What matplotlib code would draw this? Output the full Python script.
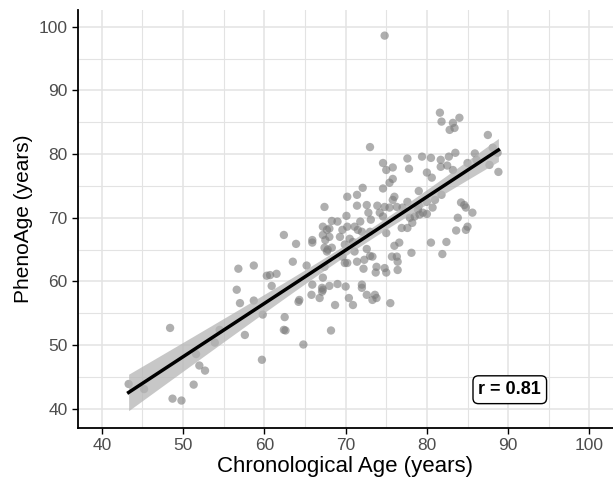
import numpy as np
import matplotlib
matplotlib.use("Agg")
import matplotlib.pyplot as plt

plt.rcParams['font.family'] = ['Liberation Sans', 'DejaVu Sans']

# chronological age (years)
chrono_age = [
    62.4, 56.8, 58.7, 60.3, 60.7, 61.5, 60.9, 56.6, 57.0, 58.7, 59.8, 62.5,
    62.4, 62.6, 48.4, 54.5, 57.6, 53.9, 51.6, 59.7, 52.0, 52.7, 43.3, 45.2,
    51.3, 48.7, 49.8,
    72.1, 70.2, 71.4, 67.4, 71.4, 72.6, 73.9, 72.8, 73.1, 70.1, 68.3, 69.0,
    67.2, 67.7, 68.0, 70.2, 71.1, 71.5, 72.0, 69.6, 71.8, 73.0, 68.0, 67.5,
    67.2, 69.3, 70.5, 70.9, 69.9, 63.9, 65.9, 65.9, 67.4, 67.8, 67.7, 68.3,
    71.1, 72.6, 73.0, 71.4, 69.6, 69.9, 70.2, 72.3, 73.3, 73.8, 63.5, 65.2,
    67.4, 72.2, 73.7, 67.2, 65.9, 67.1, 67.2, 67.1, 68.0, 69.0, 70.0, 72.0,
    72.0, 65.8, 66.8, 70.4, 72.6, 73.6, 73.8, 73.3, 64.3, 64.2, 68.7, 70.9,
    68.2, 64.8, 74.2, 74.6, 73.0, 74.8,
    81.6, 81.8, 83.2, 84.0, 82.8, 83.4, 87.5, 88.1, 88.7, 87.7, 88.8, 74.6,
    75.0, 75.8, 77.6, 77.8, 79.4, 80.5, 81.7, 82.7, 83.5, 85.9, 86.1, 85.0,
    81.7, 82.5, 83.2, 80.0, 80.6, 75.8, 75.4, 74.6, 79.0, 76.0, 75.8, 77.6,
    74.8, 75.4, 76.3, 77.0, 79.0, 80.0, 81.0, 81.8, 78.9, 79.5, 79.1, 80.0,
    80.7, 78.5, 77.9, 78.2, 84.2, 84.6, 84.8, 85.6, 83.8, 75.0, 76.9, 77.6,
    83.6, 84.8, 85.0, 80.5, 82.4, 76.0, 76.6, 78.1, 81.9, 75.7, 76.3,
    74.8, 75.0, 76.4, 76.4, 75.5,
]

# PhenoAge (years)
pheno_age = [
    67.3, 62.0, 62.5, 60.9, 61.0, 61.2, 59.3, 58.7, 56.6, 57.0, 54.8, 54.4,
    52.4, 52.3, 52.7, 52.4, 51.6, 50.4, 48.6, 47.7, 46.8, 46.0, 43.9, 43.1,
    43.8, 41.6, 41.3,
    74.7, 73.3, 73.6, 71.7, 71.9, 72.0, 71.9, 70.8, 69.7, 70.3, 69.5, 69.4,
    68.6, 68.1, 68.3, 68.6, 68.6, 68.1, 67.8, 68.1, 69.4, 67.8, 67.0, 66.5,
    67.3, 67.0, 66.7, 66.2, 65.8, 65.9, 66.5, 66.1, 65.3, 65.0, 64.7, 65.3,
    64.7, 65.1, 64.0, 63.1, 63.9, 62.9, 62.9, 63.4, 63.9, 62.3, 63.1, 62.5,
    62.3, 62.0, 61.4, 60.6, 59.5, 59.0, 58.7, 58.4, 59.3, 59.6, 59.2, 59.5,
    59.0, 57.9, 57.4, 57.4, 57.9, 57.9, 57.4, 57.1, 57.1, 56.8, 56.3, 56.3,
    52.3, 50.1, 70.8, 70.2, 81.1, 98.6,
    86.5, 85.1, 84.9, 85.7, 83.8, 84.1, 83.0, 81.0, 80.2, 78.3, 77.2, 78.6,
    77.5, 77.9, 79.3, 77.7, 79.6, 79.4, 79.1, 79.6, 80.2, 80.1, 79.1, 78.6,
    78.0, 78.2, 77.5, 77.1, 76.3, 76.1, 75.5, 74.6, 74.2, 73.3, 72.8, 72.5,
    71.7, 71.6, 71.7, 71.6, 71.9, 72.5, 72.8, 73.6, 71.3, 70.8, 70.5, 70.6,
    71.6, 70.2, 70.0, 69.2, 72.4, 72.0, 71.6, 70.8, 70.0, 67.6, 68.4, 68.4,
    68.0, 68.1, 68.6, 66.1, 66.2, 65.6, 66.1, 64.5, 64.3, 63.9, 63.9,
    62.1, 61.4, 63.1, 61.8, 56.6,
]

r_label = "r = 0.81"

x = np.array(chrono_age)
y = np.array(pheno_age)

fig = plt.figure(figsize=(6.13, 4.83), dpi=100)
ax = fig.add_axes([0.127, 0.114, 0.873, 0.865])

# grid like ggplot (major + minor)
for v in np.arange(35, 105, 5):
    lw = 1.1 if v % 10 == 0 else 0.8
    ax.axvline(v, color='#e3e3e3', lw=lw, zorder=0)
    ax.axhline(v, color='#e3e3e3', lw=lw, zorder=0)

ax.scatter(x, y, s=36, color='#7a7a7a', alpha=0.6, edgecolors='none', zorder=2)

# linear fit with 95% confidence band
slope, intercept = np.polyfit(x, y, 1)
xs = np.linspace(x.min(), x.max(), 100)
ys = intercept + slope * xs
n = len(x)
resid = y - (intercept + slope * x)
s_err = np.sqrt(np.sum(resid ** 2) / (n - 2))
se = s_err * np.sqrt(1 / n + (xs - x.mean()) ** 2 / np.sum((x - x.mean()) ** 2))
ax.fill_between(xs, ys - 1.97 * se, ys + 1.97 * se, color='#b5b5b5', alpha=0.75,
                lw=0, zorder=3)
ax.plot(xs, ys, color='black', lw=2.5, zorder=4)

ax.text(90.2, 43.0, r_label, ha='center', va='center', fontsize=13,
        fontweight='bold', zorder=5,
        bbox=dict(boxstyle='round,pad=0.3,rounding_size=0.3', fc='white',
                  ec='black', lw=1.0))

ax.set_xlim(37.05, 102.9)
ax.set_ylim(37.0, 102.6)
ax.set_xticks(np.arange(40, 101, 10))
ax.set_yticks(np.arange(40, 101, 10))
ax.tick_params(labelsize=12.5, labelcolor='#4d4d4d', length=4, width=1.0,
               color='black')
ax.set_xlabel("Chronological Age (years)", fontsize=16, labelpad=2)
ax.set_ylabel("PhenoAge (years)", fontsize=15, labelpad=4)

for side in ['top', 'right']:
    ax.spines[side].set_visible(False)
for side in ['left', 'bottom']:
    ax.spines[side].set_linewidth(1.3)

plt.savefig("out.png", dpi=100)
